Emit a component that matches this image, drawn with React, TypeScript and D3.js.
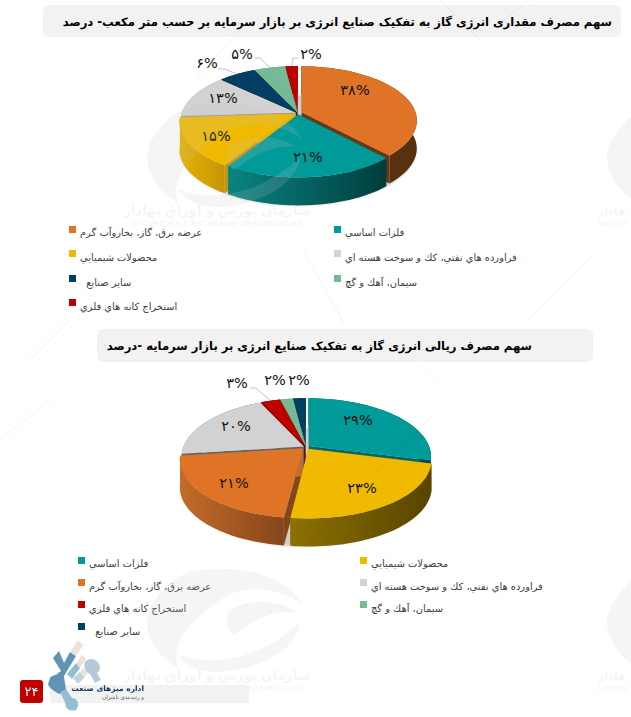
import React from "react";
import * as d3 from "d3";

// ---------- data ----------
const seriesQuantityLabels = ["۳۸%", "۲۱%", "۱۵%", "۱۳%", "۶%", "۵%", "۲%"];
const seriesQuantity = [38, 21, 15, 13, 6, 5, 2];
const quantityCategories = ["energy", "metals", "chem", "oil", "other", "cement", "mining"];

const seriesRialLabels = ["۲۹%", "۲۳%", "۲۱%", "۲۰%", "۳%", "۲%", "۲%"];
const seriesRial = [29, 23, 21, 20, 3, 2, 2];
const rialCategories = ["metals", "chem", "energy", "oil", "mining", "cement", "other"];

const titleQuantity = "سهم مصرف مقداری انرژی گاز به تفکیک صنایع انرژی بر بازار سرمایه بر حسب متر مکعب- درصد";
const titleRial = "سهم مصرف ریالی انرژی گاز به تفکیک صنایع انرژی بر بازار سرمایه -درصد";

const legendNames: Record<string, string> = {
  energy: "عرضه برق، گاز، بخاروآب گرم",
  metals: "فلزات اساسي",
  chem: "محصولات شيميايي",
  oil: "فراورده هاي نفتي، كك و سوخت هسته اي",
  other: "سایر صنایع\u00A0\u00A0",
  cement: "سيمان، آهك و گچ",
  mining: "استخراج کانه هاي فلزي",
};
const legendQuantityOrder = [["energy", "metals"], ["chem", "oil"], ["other", "cement"], ["mining"]];
const legendRialOrder = [["metals", "chem"], ["energy", "oil"], ["mining", "cement"], ["other"]];

// ---------- styles ----------
const colors: Record<string, string> = {
  energy: "#E07426", metals: "#009A98", chem: "#F0BA00", oil: "#D2D2D2",
  other: "#023F63", cement: "#74BA94", mining: "#BE0000",
};
const sideQuantity: Record<string, [string, string]> = {
  energy: ["#6a3814", "#56300f"], metals: ["#0a8482", "#003d3c"], chem: ["#e6b200", "#c49608"],
  oil: ["#999", "#999"], other: ["#012a42", "#012a42"], cement: ["#5c9676", "#5c9676"], mining: ["#800000", "#800000"],
};
const sideRial: Record<string, [string, string]> = {
  energy: ["#c46c2a", "#85461a"], metals: ["#006a69", "#004544"], chem: ["#8d7100", "#574400"],
  oil: ["#666", "#666"], other: ["#012a42", "#012a42"], cement: ["#5c9676", "#5c9676"], mining: ["#800000", "#800000"],
};
const FONT = "'DejaVu Sans', sans-serif";

type Chart = {
  id: string; cx: number; cy: number; rx: number; ry: number; k: number; depth: number;
  values: number[]; cats: string[]; labels: string[];
  explode: Record<string, number>; sides: Record<string, [string, string]>;
  labelPos: [number, number][];
  leaders: { i: number; from: [number, number]; elbow: [number, number] }[];
};

const chartQuantity: Chart = {
  id: "q", cx: 298, cy: 113, rx: 114, ry: 53, k: 0.148, depth: 28,
  values: seriesQuantity, cats: quantityCategories, labels: seriesQuantityLabels,
  explode: { energy: 0.035, metals: 0.03, chem: 0.03, oil: 0.02, other: 0.02, cement: 0.02, mining: 0.02 },
  sides: sideQuantity,
  labelPos: [[355, 90], [308, 157], [216, 136], [223, 98], [207, 63], [242, 54], [311, 54]],
  leaders: [
    { i: 4, from: [218, 69], elbow: [224, 69] },
    { i: 5, from: [255, 58], elbow: [260, 58] },
    { i: 6, from: [298, 58], elbow: [293, 58] },
  ],
};
const chartRial: Chart = {
  id: "r", cx: 306, cy: 447, rx: 120.5, ry: 56.6, k: 0.18, depth: 28,
  values: seriesRial, cats: rialCategories, labels: seriesRialLabels,
  explode: { metals: 0.03, chem: 0.035, energy: 0.035, oil: 0.02, mining: 0.02, cement: 0.02, other: 0.02 },
  sides: sideRial,
  labelPos: [[358, 420], [362, 488], [234, 483], [236, 426], [237, 383], [275, 380], [299, 380]],
  leaders: [{ i: 4, from: [250, 388], elbow: [256, 388] }],
};

const line = d3.line<[number, number]>().x((d) => d[0]).y((d) => d[1]);

function PieChart({ c }: { c: Chart }) {
  const arcs = d3.pie<number>().sort(null).startAngle(0).endAngle(2 * Math.PI)(c.values);
  const project = (a: number, r: number, off: [number, number], dz = 0): [number, number] => {
    const u = r * Math.sin(a) + off[0];
    const v = r * Math.cos(a) + off[1];
    const w = 1 + c.k * v;
    return [c.cx + (c.rx * u) / w, c.cy - (c.ry * v) / w + dz];
  };
  const slices = arcs.map((d, i) => {
    const cat = c.cats[i];
    const mid = (d.startAngle + d.endAngle) / 2;
    const e = c.explode[cat];
    const off: [number, number] = [e * Math.sin(mid), e * Math.cos(mid)];
    const angles = d3.range(0, 41).map((t) => d.startAngle + ((d.endAngle - d.startAngle) * t) / 40);
    const top = angles.map((a) => project(a, 1, off));
    const bottom = angles.map((a) => project(a, 1, off, c.depth));
    const apex = project(0, 0, off);
    const apexB = project(0, 0, off, c.depth);
    return { i, cat, mid, top, bottom, apex, apexB, off, d };
  });
  const order = [...slices].sort((a, b) => Math.cos(b.mid) - Math.cos(a.mid));
  const shadow = d3.range(0, 121).map((t) => project((t / 120) * 2 * Math.PI, 1.02, [0, 0], c.depth + 1));
  return (
    <g>
      <defs>
        {slices.map((s) => {
          const xs = s.top.map((p) => p[0]);
          return (
            <linearGradient key={s.i} id={`side-${c.id}-${s.i}`} gradientUnits="userSpaceOnUse"
              x1={d3.min(xs)} x2={d3.max(xs)} y1={0} y2={0}>
              <stop offset="0" stopColor={c.sides[s.cat][0]} />
              <stop offset="1" stopColor={c.sides[s.cat][1]} />
            </linearGradient>
          );
        })}
        <filter id={`blur-${c.id}`}><feGaussianBlur stdDeviation="1.2" /></filter>
      </defs>
      <path d={line(shadow) + "Z"} fill="#000" opacity={0.18} filter={`url(#blur-${c.id})`} />
      {order.map((s) => {
        const grad = `url(#side-${c.id}-${s.i})`;
        const first = s.top[0], last = s.top[s.top.length - 1];
        const firstB = s.bottom[0], lastB = s.bottom[s.bottom.length - 1];
        return (
          <g key={s.i}>
            <path d={line([s.apex, first, firstB, s.apexB]) + "Z"} fill={c.sides[s.cat][1]} />
            <path d={line([s.apex, last, lastB, s.apexB]) + "Z"} fill={c.sides[s.cat][0]} />
            <path d={line([...s.top, ...[...s.bottom].reverse()]) + "Z"} fill={grad} />
            <path d={line([s.apex, ...s.top]) + "Z"} fill={colors[s.cat]} />
          </g>
        );
      })}
      {c.leaders.map((l) => {
        const s = slices[l.i];
        const tip = project(s.mid, 1, s.off);
        return (
          <path key={l.i} d={line([l.from, l.elbow, tip]) ?? ""} fill="none" stroke="#A9B4DC" strokeWidth={0.8} />
        );
      })}
      {c.labels.map((t, i) => (
        <text key={i} x={c.labelPos[i][0]} y={c.labelPos[i][1]} textAnchor="middle" dominantBaseline="central"
          fontFamily={FONT} fontSize={14.5} fill="#111" style={{ direction: "ltr" }}>{t}</text>
      ))}
    </g>
  );
}

function Legend({ rows, x0, x1, ys, yBox }: { rows: string[][]; x0: number; x1: number; ys: number[]; yBox: number[] }) {
  return (
    <g>
      {rows.map((row, r) =>
        row.map((cat, j) => {
          const x = j === 0 ? x0 : x1;
          return (
            <g key={cat}>
              <rect x={x} y={yBox[r]} width={7} height={7} fill={colors[cat]} />
              <text x={x + 11} y={ys[r]} fontFamily={FONT} fontSize={9.9} fill="#404040" textAnchor="end"
                style={{ direction: "rtl" }}>{legendNames[cat]}</text>
            </g>
          );
        })
      )}
    </g>
  );
}

function Swirl() {
  return (
    <g>
      <path d="M190,572 C230,563 285,572 302,604 C275,585 240,585 220,600 C192,620 170,640 178,668 C150,652 138,622 155,600 C165,585 175,577 190,572 Z" />
      <path d="M178,655 C215,668 262,658 300,622 C298,650 255,672 215,672 C198,672 186,665 178,655 Z" />
      <path d="M230,610 C250,598 280,600 296,612 C275,610 255,618 235,635 C225,630 225,618 230,610 Z" />
    </g>
  );
}

function Watermark({ dy }: { dy: number }) {
  return (
    <g transform={`translate(0,${dy})`} opacity={0.17} fill="#c0c0c0">
      <Swirl />
      <text x={217} y={680} textAnchor="middle" fontFamily={FONT} fontWeight="bold" fontSize={13} style={{ direction: "rtl" }}>سازمان بورس و اوراق بهادار</text>
      <text x={217} y={691} textAnchor="middle" fontFamily="'Liberation Sans', sans-serif" fontWeight="bold" fontSize={7.6} letterSpacing={0.4}>SECURITIES &amp; EXCHANGE ORGANIZATION</text>
      <g transform="translate(460,0)"><Swirl /></g>
      <text x={598} y={680} fontFamily={FONT} fontWeight="bold" fontSize={11} textAnchor="end" style={{ direction: "rtl" }}>هادار</text>
      <text x={598} y={691} fontFamily="'Liberation Sans', sans-serif" fontWeight="bold" fontSize={7.6} letterSpacing={0.4}>SECUR</text>
    </g>
  );
}

const diagonals: [number, number, number, number][] = [
  [528, 320, 593, 255], [303, 250, 345, 325], [300, 550, 433, 415], [420, 365, 437, 383],
  [195, 80, 240, 30], [490, 30, 530, 0], [480, 40, 440, 0], [50, 400, 0, 440], [70, 320, 30, 360],
];

const logoPieces: [string, string][] = [
  ["M53,658 L59,651 L64,663 L70,652 L76,656 L64,676 Z", "#5E94B4"],
  ["M70,652 L78,640 L83,645 L76,656 Z", "#E8E4D8"],
  ["M67,674 L76,663 L80,668 L72,679 Z", "#92BDD3"],
  ["M76,663 L82,655 L86,659 L80,668 Z", "#E8E4D8"],
  ["M73,678 L80,672 L85,677 L78,684 Z", "#C3D3DE"],
  ["M80,672 L83,668 L88,673 L84,677 Z", "#E8E4D8"],
  ["M85,662 C90,656 100,660 100,668 C100,671 98,672 97,673 L101,680 L95,683 L90,674 C86,672 83,668 85,662 Z", "#B6CAD6"],
  ["M50,678 C53,674 57,676 58,673 L63,670 L66,690 L60,694 C55,692 49,688 48,684 Z", "#5E94B4"],
  ["M60,692 L66,689 L72,698 C78,698 80,705 76,710 C70,712 65,709 65,702 Z", "#92BDD3"],
];

export default function App() {
  return (
    <svg width={631} height={717} style={{ position: "absolute", left: 0, top: 0, background: "#fff" }}>
      <rect x={43} y={5} width={578} height={32} rx={6} fill="#F2F2F2" />
      <text x={612} y={26} fontFamily={FONT} fontWeight="bold" fontSize={11.6} fill="#000" textAnchor="start" style={{ direction: "rtl" }}>{titleQuantity}</text>
      <rect x={97} y={329} width={496} height={33} rx={6} fill="#F2F2F2" />
      <text x={532} y={350} fontFamily={FONT} fontWeight="bold" fontSize={11.6} fill="#000" textAnchor="start" style={{ direction: "rtl" }}>{titleRial}</text>

      <PieChart c={chartQuantity} />
      <PieChart c={chartRial} />

      <Legend rows={legendQuantityOrder} x0={69} x1={334} ys={[236, 261, 286, 310]} yBox={[226, 250, 275, 299]} />
      <Legend rows={legendRialOrder} x0={78} x1={360} ys={[567, 590, 612, 635]} yBox={[557, 579, 601, 623]} />

      <Watermark dy={0} />
      <Watermark dy={-465} />
      {diagonals.map((l, i) => (
        <line key={i} x1={l[0]} y1={l[1]} x2={l[2]} y2={l[3]} stroke="#000" strokeOpacity={0.05} strokeWidth={1} />
      ))}

      {/* footer */}
      <rect x={50} y={685} width={199} height={18} rx={3} fill="#F2F2F2" />
      {logoPieces.map(([d, f], i) => <path key={i} d={d} fill={f} />)}
      <rect x={20} y={680} width={23} height={23} rx={3} fill="#C00000" />
      <text x={31.5} y={696} textAnchor="middle" fill="#fff" fontFamily={FONT} fontSize={13}>۲۴</text>
      <text x={144} y={691} fontFamily={FONT} fontWeight="bold" fontSize={7.5} fill="#16305C" textAnchor="start" style={{ direction: "rtl" }}>اداره میزهای صنعت</text>
      <text x={144} y={699} fontFamily={FONT} fontSize={5.5} fill="#555" textAnchor="start" style={{ direction: "rtl" }}>و رتبه‌بندی ناشران</text>
    </svg>
  );
}
